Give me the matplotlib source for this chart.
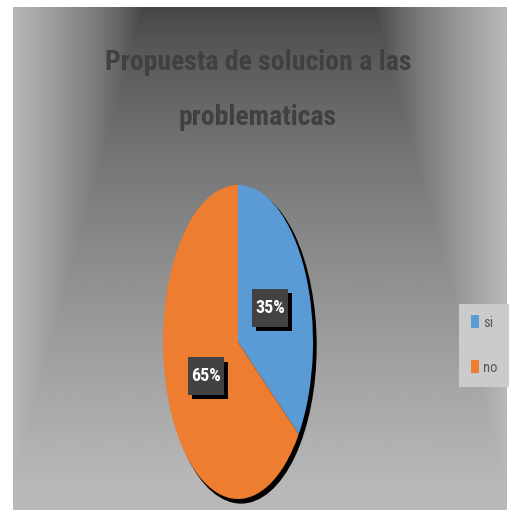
import numpy as np
import matplotlib.pyplot as plt
from matplotlib.patches import Ellipse
import matplotlib.patheffects as pe

# Chart data
labels = ['si', 'no']
values = [35, 65]
colors = ['#5b9bd5', '#ed7d31']
title = 'Propuesta de solucion a las\nproblematicas'

fam = ['Roboto Condensed', 'Liberation Sans Narrow', 'Roboto', 'DejaVu Sans']

W, H = 510, 514
fig = plt.figure(figsize=(W / 100, H / 100), dpi=100)
fig.patch.set_facecolor('white')

# Background panel with the dark "spotlight" gradient at the top
x0, y0, x1, y1 = 13, 7, 507, 510
bg = fig.add_axes([x0 / W, 1 - y1 / H, (x1 - x0) / W, (y1 - y0) / H])
gx = np.linspace(0, 1, 400)
gy = np.linspace(0, 1, 400)
X, Y = np.meshgrid(gx, gy)
hw = 0.235
dx = np.clip((np.abs(X - 0.498) - hw) / (0.5 - hw), 0, 1)
dy = Y / 0.95
d = np.clip(np.maximum(dx, dy), 0, 1)
dark, light = 0.27, 0.72
img = dark + (light - dark) * d ** 0.75
bg.imshow(img, cmap='gray', vmin=0, vmax=1, aspect='auto', extent=[0, 1, 1, 0])
bg.set_xlim(0, 1)
bg.set_ylim(1, 0)
bg.axis('off')

fig.text(0.506, 1 - 90 / H, title, ha='center', va='center', fontsize=20,
         fontweight='bold', color='#404040', linespacing=2.3, family=fam)

# Pie (stretched into an ellipse)
cx, cy, rx, ry = 238, 342, 75, 157
ax = fig.add_axes([(cx - rx) / W, (H - cy - ry) / H, 2 * rx / W, 2 * ry / H])
ax.add_patch(Ellipse((0.04, -0.025), 2, 2, color='black', zorder=0, clip_on=False))
wedges, texts, autotexts = ax.pie(values, colors=colors, startangle=90, counterclock=False,
                                  autopct='%1.0f%%', pctdistance=0.48,
                                  textprops=dict(color='white', fontsize=13, fontweight='bold',
                                                 family=fam))
ax.set_aspect('auto')
ax.set_xlim(-1, 1)
ax.set_ylim(-1, 1)
ax.axis('off')
for w in wedges:
    w.set_clip_on(False)

for t in autotexts:
    t.set_bbox(dict(boxstyle='square,pad=0.17', mutation_aspect=3.2, fc='#424242', ec='none'))
    t.get_bbox_patch().set_path_effects([
        pe.SimplePatchShadow(offset=(3, -3), shadow_rgbFace='black', alpha=1),
        pe.Normal()])
    t.set_zorder(4)

leg = fig.legend(wedges, labels, loc='center', bbox_to_anchor=(484 / W, 1 - 345 / H),
                 frameon=True, fancybox=False, facecolor='#cbcbcb', edgecolor='none',
                 framealpha=1, handlelength=0.55, handleheight=1.0, handletextpad=0.3,
                 labelspacing=2.1, borderpad=0.8, borderaxespad=0,
                 prop=dict(family=fam, size=10.5))
for t in leg.get_texts():
    t.set_color('#595959')

fig.savefig('out.png', dpi=100)
